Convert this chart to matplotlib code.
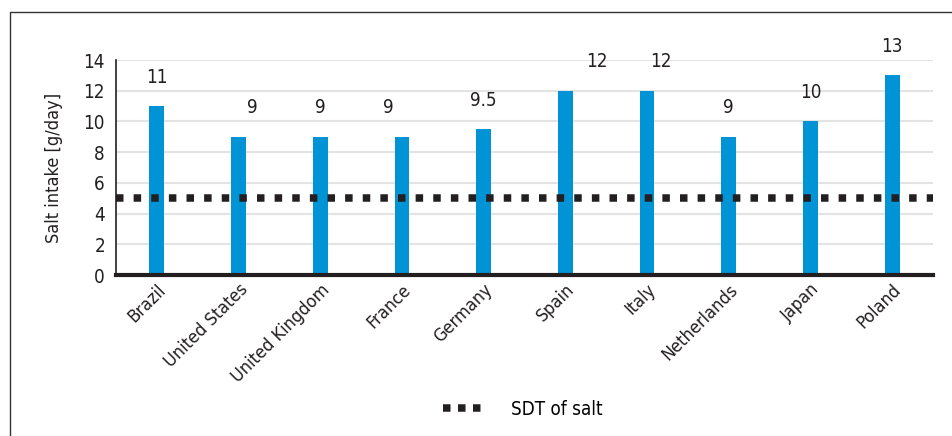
import matplotlib
matplotlib.use("Agg")
import matplotlib.pyplot as plt
from matplotlib.lines import Line2D
from matplotlib.patches import Rectangle

plt.rcParams['font.family'] = ['DejaVu Sans']
plt.rcParams['font.stretch'] = 'condensed'

countries = ["Brazil", "United States", "United Kingdom", "France", "Germany",
             "Spain", "Italy", "Netherlands", "Japan", "Poland"]
intake = [11, 9, 9, 9, 9.5, 12, 12, 9, 10, 13]
value_labels = ["11", "9", "9", "9", "9.5", "12", "12", "9", "10", "13"]
label_dx = [0, 10, 0, -10, 0, 23, 10, 0, 0, 0]
sdt = 5
y_ticks = [0, 2, 4, 6, 8, 10, 12, 14]

fig = plt.figure(figsize=(9.52, 4.36), dpi=100)
ax = fig.add_axes([116 / 952, 1 - 275 / 436, (933 - 116) / 952, (275 - 60) / 436])

# outer frame
fig.patches.append(Rectangle((10 / 952, -0.1), 1.2, 1 - 12 / 436 + 0.1,
                             transform=fig.transFigure, fill=False,
                             edgecolor='#333333', linewidth=1.0))

x = range(len(countries))
ax.bar(x, intake, width=0.18, color='#0093D6', zorder=2)
ax.axhline(sdt, color='#231F20', linewidth=5.4, linestyle=(0, (1, 1.35)),
           dash_capstyle='butt', zorder=3)

for i, (v, lab) in enumerate(zip(intake, value_labels)):
    ax.annotate(lab, (i, v), xytext=(label_dx[i], 14), textcoords='offset points',
                ha='center', va='bottom', fontsize=13.5, color='#231F20')

ax.set_xlim(-0.5, len(countries) - 0.5)
ax.set_ylim(0, 14)
ax.set_yticks(y_ticks)
ax.tick_params(axis='y', length=0, labelsize=13.5, colors='#231F20', pad=8)
ax.tick_params(axis='x', length=0, labelsize=13, colors='#231F20', pad=4)
ax.set_xticks(list(x))
ax.set_xticklabels(countries, rotation=45, ha='right', rotation_mode='anchor')
ax.grid(axis='y', color='#E3E3E3', linewidth=1.5, zorder=0)
ax.set_axisbelow(True)
ax.set_ylabel("Salt intake [g/day]", fontsize=13, color='#231F20', labelpad=15)

for s in ['top', 'right']:
    ax.spines[s].set_visible(False)
ax.spines['left'].set_color('#231F20')
ax.spines['left'].set_linewidth(1.2)
ax.spines['bottom'].set_color('#231F20')
ax.spines['bottom'].set_linewidth(3)

handle = Line2D([0], [0], color='#231F20', linewidth=5.4, linestyle=(0, (1, 1.0)),
                dash_capstyle='butt')
fig.legend([handle], ["SDT of salt"], loc='center', bbox_to_anchor=(523 / 952, 1 - 409 / 436),
           frameon=False, fontsize=13.5, handlelength=2.2, handletextpad=1.4)

fig.savefig("out.png", dpi=100)
